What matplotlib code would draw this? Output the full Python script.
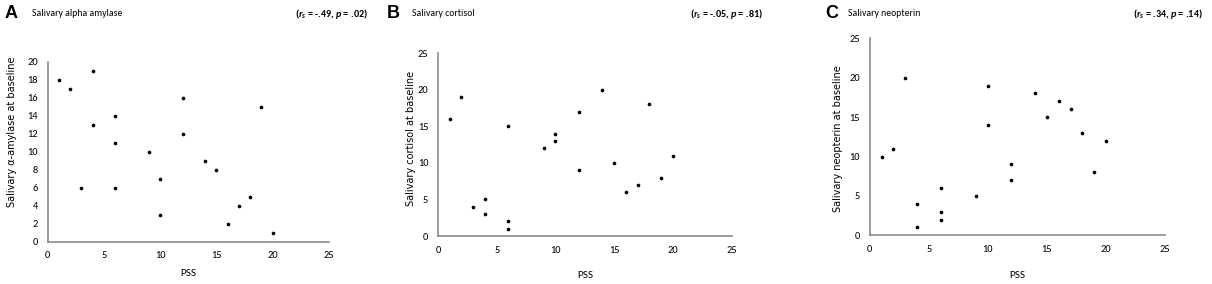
import matplotlib
matplotlib.use("Agg")
import matplotlib.pyplot as plt

pss_a = [1, 2, 3, 4, 4, 6, 6, 6, 9, 10, 10, 12, 12, 14, 15, 16, 17, 18, 19, 20]
amylase = [18, 17, 6, 19, 13, 14, 11, 6, 10, 7, 3, 16, 12, 9, 8, 2, 4, 5, 15, 1]

pss_b = [1, 2, 3, 4, 4, 6, 6, 6, 9, 10, 10, 12, 12, 14, 15, 16, 17, 18, 19, 20]
cortisol = [16, 19, 4, 5, 3, 15, 2, 1, 12, 14, 13, 17, 9, 20, 10, 6, 7, 18, 8, 11]

pss_c = [1, 2, 3, 4, 4, 6, 6, 6, 9, 10, 10, 12, 12, 14, 15, 16, 17, 18, 19, 20]
neopterin = [10, 11, 20, 4, 1, 6, 3, 2, 5, 19, 14, 9, 7, 18, 15, 17, 16, 13, 8, 12]

letters = ["A", "B", "C"]
titles = ["Salivary alpha amylase", "Salivary cortisol", "Salivary neopterin"]
stats = [("-.49", ".02"), ("-.05", ".81"), (".34", ".14")]
ylabels = ["Salivary α-amylase at baseline", "Salivary cortisol at baseline",
           "Salivary neopterin at baseline"]
yticks_list = [[0, 2, 4, 6, 8, 10, 12, 14, 16, 18, 20], [0, 5, 10, 15, 20, 25], [0, 5, 10, 15, 20, 25]]
xticks = [0, 5, 10, 15, 20, 25]

plt.rcParams["mathtext.fontset"] = "custom"
plt.rcParams["mathtext.it"] = "Carlito:italic:bold"
plt.rcParams["mathtext.rm"] = "Carlito:bold"
plt.rcParams["mathtext.bf"] = "Carlito:bold"

W, H = 1212, 284
fig = plt.figure(figsize=(W / 100, H / 100), dpi=100)

narrow = ["Carlito", "DejaVu Sans"]

boxes = [(47.7, 329, 241.7, 61.7), (438, 731.7, 236, 53.3), (869.7, 1165, 235.3, 38.3)]
letter_x = [5, 387, 825]
title_x = [32, 412, 848]
stat_right = [368, 763, 1203]
ylabel_x = [12, 411, 838]
ylabel_y = [132, 138, 139]
xlabel_y = [273, 275, 275]

data = [(pss_a, amylase), (pss_b, cortisol), (pss_c, neopterin)]

for i, (xs, ys) in enumerate(data):
    l, r, b, t = boxes[i]
    ax = fig.add_axes([l / W, 1 - b / H, (r - l) / W, (b - t) / H])
    ax.scatter(xs, ys, s=7, color="black", zorder=3, linewidths=0)
    yt = yticks_list[i]
    ax.set_xlim(0, 25)
    ax.set_ylim(yt[0], yt[-1])
    ax.set_xticks(xticks)
    ax.set_yticks(yt)
    for s in ["top", "right"]:
        ax.spines[s].set_visible(False)
    for s in ["left", "bottom"]:
        ax.spines[s].set_color("#8a8a8a")
        ax.spines[s].set_linewidth(1.2)
    ax.tick_params(length=0, pad=7, labelsize=7.5)
    for lab in ax.get_xticklabels() + ax.get_yticklabels():
        lab.set_family(narrow)
    fig.text(letter_x[i] / W, 1 - 14 / H, letters[i], fontsize=13, fontweight="bold",
             family=["Liberation Sans", "DejaVu Sans"], ha="left", va="center")
    fig.text(title_x[i] / W, 1 - 14 / H, titles[i], fontsize=7, family=narrow,
             ha="left", va="center")
    rs, p = stats[i]
    fig.text(stat_right[i] / W, 1 - 14 / H,
             r"($\mathit{r}_{\mathit{s}}$ = " + rs + r", $\mathit{p}$ = " + p + ")",
             fontsize=7.3, fontweight="bold", family=narrow, ha="right", va="center")
    fig.text(ylabel_x[i] / W, 1 - ylabel_y[i] / H, ylabels[i], rotation=90,
             fontsize=7, family=["DejaVu Sans"], ha="center", va="center")
    fig.text(((l + r) / 2) / W, 1 - xlabel_y[i] / H, "PSS", fontsize=8, family=narrow,
             ha="center", va="center")

fig.savefig("out.png", dpi=100)
